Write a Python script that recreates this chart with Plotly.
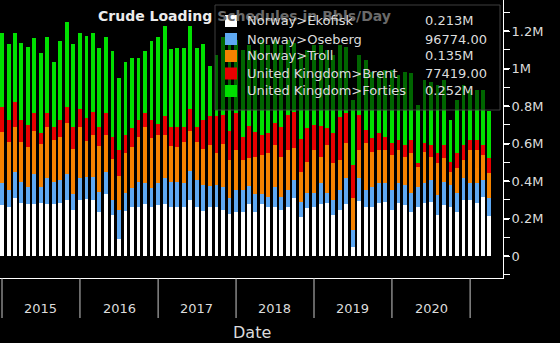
import plotly.graph_objects as go
import pandas as pd

# ---- data (barrels per day), monthly Jan 2015 .. Apr 2021 ----
months = pd.date_range("2015-01-01", periods=76, freq="MS")

ekofisk = [272000, 261000, 309000, 283000, 277000, 277000, 283000, 277000, 277000, 283000,
           299000, 245000, 299000, 304000, 299000, 235000, 331000, 219000, 91000, 240000,
           261000, 261000, 277000, 261000, 272000, 277000, 261000, 261000, 261000, 299000,
           261000, 240000, 261000, 261000, 245000, 224000, 235000, 235000, 277000, 235000,
           277000, 261000, 261000, 245000, 261000, 309000, 208000, 256000, 261000, 277000,
           283000, 219000, 245000, 277000, 48000, 293000, 261000, 261000, 283000, 288000,
           245000, 283000, 272000, 235000, 261000, 283000, 288000, 219000, 272000, 261000,
           235000, 299000, 299000, 283000, 315000, 213000]
oseberg = [117000, 91000, 139000, 112000, 91000, 160000, 85000, 139000, 117000, 123000,
           139000, 85000, 117000, 117000, 123000, 107000, 117000, 80000, 155000, 96000,
           101000, 133000, 112000, 101000, 117000, 139000, 133000, 133000, 128000, 155000,
           144000, 139000, 112000, 117000, 123000, 85000, 117000, 117000, 96000, 96000,
           53000, 53000, 107000, 69000, 91000, 96000, 80000, 80000, 75000, 112000,
           53000, 80000, 107000, 139000, 91000, 123000, 91000, 107000, 107000, 101000,
           107000, 107000, 107000, 101000, 107000, 107000, 117000, 107000, 123000, 117000,
           101000, 117000, 91000, 107000, 91000, 96774]
troll = [272000, 256000, 240000, 213000, 213000, 229000, 229000, 272000, 224000, 229000,
         272000, 240000, 272000, 192000, 224000, 245000, 197000, 219000, 181000, 213000,
         219000, 240000, 299000, 267000, 256000, 229000, 192000, 187000, 219000, 213000,
         203000, 192000, 219000, 171000, 229000, 203000, 213000, 160000, 149000, 197000,
         208000, 235000, 224000, 213000, 213000, 171000, 160000, 165000, 229000, 139000,
         256000, 197000, 160000, 187000, 171000, 149000, 251000, 187000, 176000, 176000,
         187000, 176000, 149000, 213000, 107000, 165000, 123000, 171000, 128000, 69000,
         133000, 96000, 176000, 176000, 133000, 135000]
brent = [133000, 117000, 133000, 117000, 117000, 96000, 59000, 75000, 69000, 91000,
         85000, 117000, 96000, 123000, 123000, 101000, 117000, 117000, 139000, 96000,
         101000, 91000, 75000, 96000, 59000, 101000, 101000, 107000, 80000, 117000,
         80000, 155000, 155000, 197000, 155000, 155000, 197000, 123000, 170000, 133000,
         107000, 107000, 117000, 160000, 187000, 192000, 176000, 181000, 133000, 165000,
         91000, 160000, 229000, 160000, 176000, 187000, 69000, 75000, 91000, 69000,
         64000, 53000, 64000, 69000, 21000, 48000, 64000, 53000, 69000, 53000,
         80000, 80000, 53000, 53000, 53000, 77419]
forties = [395000, 405000, 368000, 411000, 416000, 400000, 427000, 405000, 347000, 421000,
           453000, 443000, 405000, 437000, 421000, 421000, 405000, 459000, 384000, 389000,
           373000, 331000, 331000, 421000, 464000, 480000, 416000, 421000, 421000, 443000,
           421000, 405000, 267000, 325000, 416000, 459000, 389000, 464000, 432000, 437000,
           507000, 469000, 443000, 437000, 400000, 368000, 448000, 416000, 427000, 432000,
           416000, 416000, 384000, 352000, 347000, 320000, 373000, 352000, 325000, 357000,
           389000, 347000, 389000, 357000, 309000, 336000, 336000, 363000, 347000, 224000,
           283000, 320000, 267000, 267000, 293000, 252000]

series_names = ["Norway>Ekofisk", "Norway>Oseberg", "Norway>Troll",
                "United Kingdom>Brent", "United Kingdom>Forties"]
legend_values = ["0.213M", "96774.00", "0.135M", "77419.00", "0.252M"]
colors = ["#ffffff", "#5ea8f2", "#f58200", "#e80000", "#00e000"]

y_tickvals = [0, 200000, 400000, 600000, 800000, 1000000, 1200000]
y_ticktext = ["0", "0.2M", "0.4M", "0.6M", "0.8M", "1M", "1.2M"]
years = [2015, 2016, 2017, 2018, 2019, 2020]

FONT = "DejaVu Sans"
TXT = "#dcdcdc"

# plot area in pixels
PW, PH = 503, 278


def px(x):
    return x / PW


def py(y):
    return 1 - y / PH


fig = go.Figure()
for name, vals, col in zip(series_names, [ekofisk, oseberg, troll, brent, forties], colors):
    fig.add_bar(x=months, y=vals, name=name, marker_color=col, marker_line_width=0)

shapes = []
annotations = []

# year separators & labels
for yr in years + [2021]:
    shapes.append(dict(type="line", xref="x", yref="paper", x0=f"{yr}-01-01", x1=f"{yr}-01-01",
                       y0=0, y1=-40 / PH, line=dict(color="#c8c8c8", width=1)))
for yr in years:
    annotations.append(dict(xref="x", yref="paper", x=f"{yr}-07-02", y=-30 / PH, text=str(yr),
                            showarrow=False, font=dict(family=FONT, size=13, color=TXT),
                            xanchor="center", yanchor="middle"))
annotations.append(dict(xref="paper", yref="paper", x=0.5, y=-54 / PH, text="Date", showarrow=False,
                        font=dict(family=FONT, size=16, color=TXT), xanchor="center", yanchor="middle"))

# title
annotations.append(dict(xref="paper", yref="paper", x=px(96), y=py(16), xanchor="left", yanchor="middle",
                        showarrow=False,
                        text='<b>Crude Loading <span style="color:#6a6a6a">Schedules in Bbls/Day</span></b>',
                        font=dict(family=FONT, size=14, color="#ececec")))

# legend box (translucent)
shapes.append(dict(type="rect", xref="paper", yref="paper", x0=px(215), x1=px(500), y0=py(110), y1=py(5),
                   fillcolor="rgba(0,0,0,0.55)", line=dict(color="rgba(70,70,70,0.9)", width=1), layer="above"))
centers = [21, 39, 56, 73.5, 91]
for name, val, col, cy in zip(series_names, legend_values, colors, centers):
    shapes.append(dict(type="rect", xref="paper", yref="paper", x0=px(225), x1=px(237),
                       y0=py(cy + 6), y1=py(cy - 6), fillcolor=col, line=dict(width=0), layer="above"))
    annotations.append(dict(xref="paper", yref="paper", x=px(245), y=py(cy), text=name, showarrow=False,
                            xanchor="left", yanchor="middle", font=dict(family=FONT, size=13, color=TXT)))
    annotations.append(dict(xref="paper", yref="paper", x=px(423), y=py(cy), text=val, showarrow=False,
                            xanchor="left", yanchor="middle", font=dict(family=FONT, size=13, color=TXT)))

fig.update_layout(
    barmode="stack", bargap=0.36, showlegend=False,
    width=560, height=343, autosize=False,
    margin=dict(l=0, r=57, t=0, b=65, pad=0),
    paper_bgcolor="black", plot_bgcolor="black",
    shapes=shapes, annotations=annotations,
    xaxis=dict(type="date", range=["2014-12-22 14:00", "2021-06-04"], showgrid=False, zeroline=False,
               showticklabels=False, ticks="", showline=True, linecolor="white", linewidth=1),
    yaxis=dict(side="right", range=[-117333, 1365333], tickmode="array", tickvals=y_tickvals,
               ticktext=y_ticktext, ticks="outside", ticklen=5, tickwidth=2, tickcolor="white",
               showline=True, linecolor="white", linewidth=1, showgrid=False, zeroline=False,
               tickfont=dict(family=FONT, size=13, color=TXT),
               minor=dict(tickmode="linear", tick0=0, dtick=100000, ticks="outside", ticklen=6,
                          tickcolor="white", tickwidth=1, showgrid=False)),
)

fig.write_html("out.html")
